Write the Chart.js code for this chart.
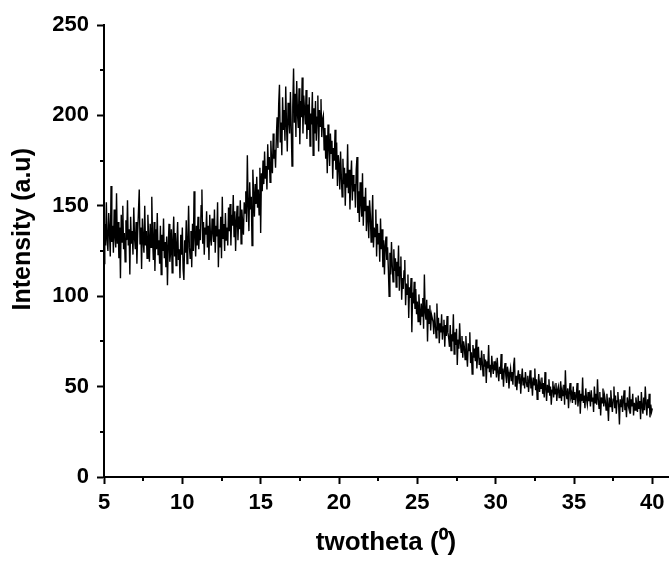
<!DOCTYPE html>
<html>
<head>
<meta charset="utf-8">
<script src="https://cdn.jsdelivr.net/npm/chart.js@4/dist/chart.umd.min.js"></script>
<style>
  html, body { margin: 0; padding: 0; background: #fff; }
  #wrap { width: 672px; height: 561px; }
</style>
</head>
<body>
<div id="wrap"><canvas id="c" width="672" height="561"></canvas></div>
<script>
// ---- data ----
const twoThetaStart = 5;
const twoThetaStep = 0.05;
const intensity = [
  118,140,128,152,131,125,146,136,122,161,130,139,124,148,133,127,157,129,141,121,
  138,110,145,130,150,126,135,119,142,131,153,128,137,112,144,129,136,123,149,132,
  126,141,118,135,147,159,129,138,115,143,131,124,150,128,136,121,145,133,119,140,
  127,155,132,120,141,114,137,126,146,123,131,118,139,112,134,125,143,121,130,116,
  133,106,128,140,119,124,137,113,131,144,122,135,117,129,141,120,126,110,134,123,
  138,115,109,131,124,142,118,129,150,127,121,136,116,140,125,158,132,122,139,128,
  144,126,137,131,150,159,129,141,123,138,134,147,127,139,120,145,132,128,143,136,
  130,148,124,139,133,152,116,137,127,144,121,155,132,140,125,146,131,138,128,149,
  136,151,128,145,139,156,133,147,125,142,150,131,144,137,153,129,148,140,134,152,
  146,158,141,178,150,136,163,148,155,128,170,157,144,162,151,166,149,159,145,171,
  135,168,158,175,162,180,165,172,159,184,170,177,163,186,174,168,190,176,181,171,
  188,199,182,206,217,185,196,178,210,192,203,186,216,195,180,207,198,190,213,194,
  172,205,226,196,212,188,219,201,193,215,184,208,199,221,190,211,203,195,214,187,
  206,192,210,183,201,195,213,178,204,190,208,186,199,211,180,203,194,209,188,198,
  200,181,193,176,189,168,195,184,172,190,179,186,165,182,175,192,170,185,161,178,
  173,159,180,166,155,176,162,171,150,168,160,184,157,170,148,165,175,153,167,158,
  162,149,170,177,146,158,141,163,152,144,168,139,155,147,160,136,150,143,132,153,
  145,130,141,156,127,138,133,148,122,140,129,135,119,143,126,137,116,131,112,128,
  133,120,127,115,100,124,112,130,117,108,126,114,121,105,119,111,128,103,116,122,
  98,110,104,114,120,95,107,101,112,88,105,99,110,80,102,96,108,93,104,90,
  97,86,101,92,84,96,89,99,82,112,91,87,98,75,93,85,95,81,90,88,
  86,79,91,84,77,96,81,88,74,85,80,90,76,83,87,72,84,78,89,80,
  77,72,84,70,79,75,90,68,80,73,82,62,76,71,85,74,69,78,66,75,
  72,65,78,68,61,74,70,80,63,69,57,73,66,71,64,76,60,68,72,62,
  66,59,70,63,56,68,61,65,52,64,60,73,58,62,55,67,61,57,64,59,
  62,55,66,58,53,61,57,68,54,60,50,59,63,56,52,61,58,49,57,60,
  53,58,51,62,66,50,56,48,55,59,52,57,46,54,60,51,55,49,58,53,
  50,56,47,53,59,49,52,45,55,51,60,48,54,43,50,57,47,52,49,55,
  46,52,44,58,49,42,51,47,54,45,50,40,48,53,44,49,46,52,42,48,
  50,44,47,53,42,48,45,51,40,59,46,43,49,38,47,52,44,46,41,50,
  43,47,40,45,52,39,44,48,35,46,42,55,41,45,38,49,43,40,47,42,
  45,39,48,42,44,36,50,41,46,40,54,43,38,47,34,44,41,49,39,45,
  42,37,46,40,31,44,39,48,41,36,43,50,38,45,35,42,47,40,29,43,
  39,45,36,42,48,37,41,33,44,40,38,50,35,43,39,46,34,41,37,44,
  40,36,45,38,42,32,47,39,35,44,37,50,41,34,43,38,46,33,40,36,
  38
];
const xMajorTicks = [5, 10, 15, 20, 25, 30, 35, 40];
const xMinorTicks = [7.5, 12.5, 17.5, 22.5, 27.5, 32.5, 37.5];
const yMajorTicks = [0, 50, 100, 150, 200, 250];
const yMinorTicks = [25, 75, 125, 175, 225];
const xTitle = 'twotheta (\u2070)';
const yTitle = 'Intensity (a.u)';

// ---- chart ----
const points = intensity.map((v, i) => ({ x: +(twoThetaStart + i * twoThetaStep).toFixed(2), y: v }));

const FONT = '"Liberation Sans", Arial, Helvetica, sans-serif';

const extrasPlugin = {
  id: 'extras',
  afterDraw(chart) {
    const ctx = chart.ctx;
    const xs = chart.scales.x, ys = chart.scales.y;
    const area = chart.chartArea;
    ctx.save();
    // minor ticks
    ctx.strokeStyle = '#000';
    ctx.lineWidth = 2;
    ctx.beginPath();
    xMinorTicks.forEach(v => {
      const px = Math.round(xs.getPixelForValue(v));
      ctx.moveTo(px, area.bottom);
      ctx.lineTo(px, area.bottom + 4);
    });
    yMinorTicks.forEach(v => {
      const py = Math.round(ys.getPixelForValue(v));
      ctx.moveTo(area.left, py);
      ctx.lineTo(area.left - 4, py);
    });
    ctx.stroke();
    // y-axis title (placed like the reference, a little above the axis centre)
    ctx.fillStyle = '#000';
    ctx.font = 'bold 25px ' + FONT;
    ctx.textAlign = 'center';
    ctx.textBaseline = 'middle';
    ctx.translate(23, ys.getPixelForValue(137));
    ctx.rotate(-Math.PI / 2);
    ctx.fillText(yTitle, 0, 0);
    ctx.restore();
  }
};

new Chart(document.getElementById('c'), {
  type: 'line',
  data: {
    datasets: [{
      data: points,
      borderColor: '#000',
      borderWidth: 1.4,
      pointRadius: 0,
      tension: 0,
      fill: false
    }]
  },
  options: {
    responsive: false,
    animation: false,
    layout: { padding: { top: 25, right: 4, left: 0, bottom: 0 } },
    plugins: { legend: { display: false }, tooltip: { enabled: false } },
    scales: {
      x: {
        type: 'linear',
        min: 5,
        max: 41,
        afterBuildTicks(scale) { scale.ticks = xMajorTicks.map(v => ({ value: v })); },
        afterFit(scale) { scale.height = 84; },
        ticks: {
          color: '#000',
          font: { family: FONT, size: 22, weight: 'bold' },
          padding: 6,
          maxRotation: 0,
          autoSkip: false
        },
        grid: { display: true, drawOnChartArea: false, drawTicks: true, tickLength: 7, tickWidth: 2, tickColor: '#000' },
        border: { display: true, color: '#000', width: 2 },
        title: {
          display: true,
          text: xTitle,
          color: '#000',
          font: { family: FONT, size: 26, weight: 'bold' },
          padding: { top: 0, bottom: 3 }
        }
      },
      y: {
        type: 'linear',
        min: 0,
        max: 250,
        afterBuildTicks(scale) { scale.ticks = yMajorTicks.map(v => ({ value: v })); },
        afterFit(scale) { scale.width = 104; },
        ticks: {
          color: '#000',
          font: { family: FONT, size: 22, weight: 'bold' },
          padding: 8,
          autoSkip: false
        },
        grid: { display: true, drawOnChartArea: false, drawTicks: true, tickLength: 7, tickWidth: 2, tickColor: '#000' },
        border: { display: true, color: '#000', width: 2 },
        title: { display: false }
      }
    }
  },
  plugins: [extrasPlugin]
});
</script>
</body>
</html>
